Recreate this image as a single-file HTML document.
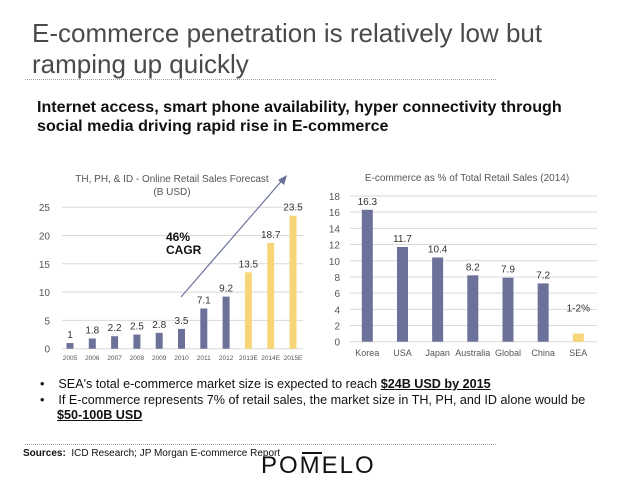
<!DOCTYPE html>
<html><head><meta charset="utf-8"><style>
body{margin:0;width:638px;height:479px;background:#fff;font-family:"Liberation Sans",sans-serif;position:relative;overflow:hidden}
.t{position:absolute;white-space:nowrap}
</style></head><body>
<div class="t" style="left:32px;top:18px;font-size:26px;line-height:31px;color:#4a4a4a">E-commerce penetration is relatively low but<br>ramping up quickly</div>
<div style="position:absolute;left:25px;top:79px;width:471px;border-top:1px dotted #9aa3ad"></div>
<div class="t" style="left:37px;top:98px;font-size:16.1px;line-height:19px;font-weight:bold;color:#111">Internet access, smart phone availability, hyper connectivity through<br>social media driving rapid rise in E-commerce</div>
<svg id="c" width="638" height="479" style="position:absolute;left:0;top:0"></svg>
<div class="t" style="left:40px;top:377px;font-size:12.6px;line-height:15.5px;color:#111">
<div>•&nbsp;&nbsp;&nbsp;&nbsp;SEA's total e-commerce market size is expected to reach <b><u>$24B USD by 2015</u></b></div>
<div>•&nbsp;&nbsp;&nbsp;&nbsp;If E-commerce represents 7% of retail sales, the market size in TH, PH, and ID alone would be</div>
<div style="padding-left:17px"><b><u>$50-100B USD</u></b></div>
</div>
<div style="position:absolute;left:25px;top:444px;width:471px;border-top:1px dotted #9aa3ad"></div>
<div class="t" style="left:23px;top:448px;font-size:10px;color:#111"><b>Sources:</b>&nbsp; ICD Research; JP Morgan E-commerce Report</div>
<div class="t" style="left:261px;top:452px;font-size:24px;letter-spacing:2px;color:#111">POMELO</div>
<div style="position:absolute;left:302px;top:452px;width:20px;height:2px;background:#111"></div>
<script>
const years=["2005","2006","2007","2008","2009","2010","2011","2012","2013E","2014E","2015E"];
const sales=[1,1.8,2.2,2.5,2.8,3.5,7.1,9.2,13.5,18.7,23.5];
const salesLabels=["1","1.8","2.2","2.5","2.8","3.5","7.1","9.2","13.5","18.7","23.5"];
const forecast=[false,false,false,false,false,false,false,false,true,true,true];
const leftTicks=[0,5,10,15,20,25];
const countries=["Korea","USA","Japan","Australia","Global","China","SEA"];
const share=[16.3,11.7,10.4,8.2,7.9,7.2,1];
const shareLabels=["16.3","11.7","10.4","8.2","7.9","7.2","1-2%"];
const rightTicks=[0,2,4,6,8,10,12,14,16,18];
const svg=document.getElementById('c');
const NS='http://www.w3.org/2000/svg';
function mk(tag,a,txt){const e=document.createElementNS(NS,tag);for(const k in a)e.setAttribute(k,a[k]);if(txt!=null)e.textContent=txt;svg.appendChild(e);return e;}
const BLUE='#6b7199',YEL='#f7d67a',G='#555';
const ly=v=>348.7-v*5.66, lx=i=>70+i*22.3;
leftTicks.forEach(t=>{
 const l=mk('line',{x1:62,x2:303,y1:ly(t),y2:ly(t),stroke:'#d9d9d9','stroke-width':1});
 
 const tx=mk('text',{x:50,y:ly(t)+4,'text-anchor':'end','font-size':10,fill:G},t);
 
});
sales.forEach((v,i)=>{
 const r=mk('rect',{x:lx(i)-3.5,y:ly(v),width:7,height:v*5.66,fill:forecast[i]?YEL:BLUE});
 
 const t=mk('text',{x:lx(i),y:ly(v)-5,'text-anchor':'middle','font-size':10,fill:'#333'},salesLabels[i]);
 
 const x=mk('text',{x:lx(i),y:360,'text-anchor':'middle','font-size':6.5,fill:G},years[i]);
 
});
let e=mk('text',{x:172,y:182,'text-anchor':'middle','font-size':10,fill:G},'TH, PH, & ID - Online Retail Sales Forecast');

e=mk('text',{x:172,y:195,'text-anchor':'middle','font-size':10,fill:G},'(B USD)');

e=mk('line',{x1:181,y1:297,x2:285,y2:177,stroke:'#6b7199','stroke-width':1.2});

e=mk('polygon',{points:'287,175 278,180 284,185',fill:'#6b7199'});

e=mk('text',{x:166,y:241,'font-size':12,'font-weight':'bold',fill:'#111'},'46%');

e=mk('text',{x:166,y:254,'font-size':12,'font-weight':'bold',fill:'#111'},'CAGR');

const ry=v=>341.7-v*8.095, rx=i=>367.3+i*35.17;
rightTicks.forEach(t=>{
 const l=mk('line',{x1:350,x2:597,y1:ry(t),y2:ry(t),stroke:'#d9d9d9','stroke-width':1});
 
 const tx=mk('text',{x:340,y:ry(t)+4,'text-anchor':'end','font-size':10,fill:G},t);
 
});
share.forEach((v,i)=>{
 const last=i===share.length-1;
 const r=mk('rect',{x:rx(i)-5.5,y:ry(v),width:11,height:v*8.095,fill:last?YEL:BLUE});
 
 const t=mk('text',{x:rx(i),y:ry(v)-(last?22:5),'text-anchor':'middle','font-size':10,fill:'#333'},shareLabels[i]);
 
 const x=mk('text',{x:rx(i),y:356,'text-anchor':'middle','font-size':9,fill:G},countries[i]);
 
});
e=mk('text',{x:467,y:181,'text-anchor':'middle','font-size':10,fill:G},'E-commerce as % of Total Retail Sales (2014)');

</script>
</body></html>
